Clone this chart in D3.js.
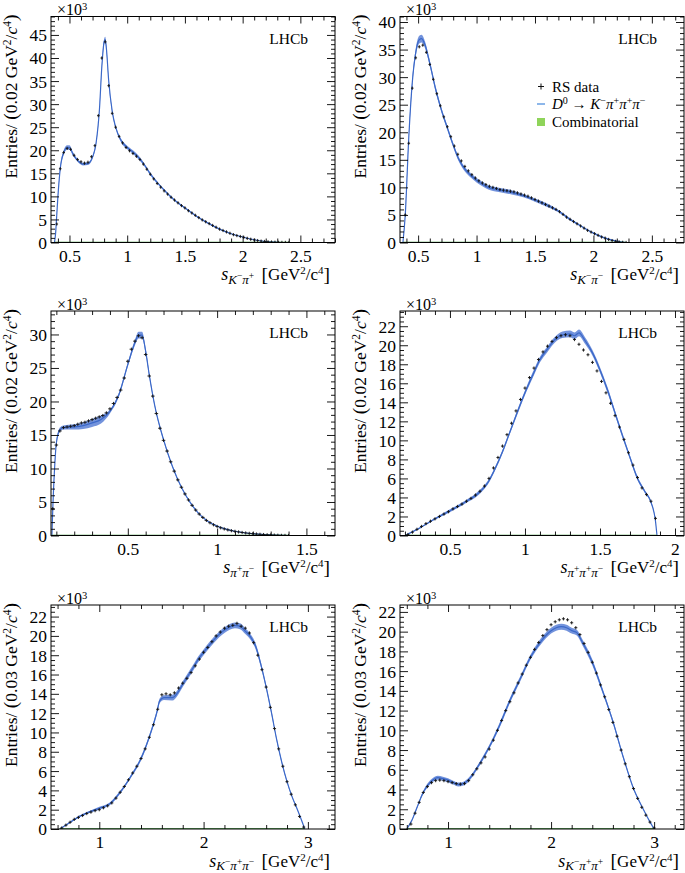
<!DOCTYPE html>
<html><head><meta charset="utf-8">
<script src="https://cdn.jsdelivr.net/npm/d3@7"></script>
<style>body{margin:0;background:#fff}svg{display:block}text{white-space:pre}</style>
</head><body><svg id="c" width="685" height="873"></svg>
<script>
// ---------- DATA (entries in units of 10^3) ----------
// bin centres: start + i*step
const binStart = [0.39, 0.39, 0.08, 0.22, 0.64, 0.64];
const binStep  = [0.03, 0.03, 0.02, 0.03, 0.04, 0.04];
const binWidthLabel = ["0.02","0.02","0.02","0.02","0.03","0.03"];

const dataKmPip = [4,16,19.5,20.4,20.2,18.9,18.0,17.5,17.2,17.4,
  18.6,21.0,27.5,40.0,43.5,34.0,28.0,25.0,23.0,21.6,
  20.6,19.9,19.3,18.7,18.0,17.0,15.9,14.8,13.8,12.8,
  12.0,11.2,10.5,9.8,9.2,8.6,8.0,7.5,6.9,6.4,
  5.9,5.4,4.9,4.5,4.1,3.7,3.3,2.9,2.6,2.3,
  2.0,1.7,1.5,1.3,1.1,0.9,0.7,0.55,0.42,0.3,
  0.22,0.15,0.1,0.06,0.03,0.02,0.01,0];
const dataKmPim = [5,18,28,33.5,35.5,35.8,34.5,32.3,29.6,27.0,
  24.8,22.8,21.0,19.2,17.5,16.0,14.8,13.8,13.0,12.3,
  11.7,11.2,10.8,10.5,10.2,10.0,9.8,9.6,9.5,9.4,
  9.3,9.2,9.0,8.8,8.6,8.4,8.1,7.8,7.5,7.2,
  6.9,6.6,6.3,6.0,5.6,5.1,4.6,4.2,3.8,3.4,
  3.0,2.6,2.2,1.9,1.6,1.3,1.0,0.8,0.55,0.35,
  0.2,0.1,0.03,0];
const dataPipPim = [4,13.5,15.6,16.1,16.2,16.3,16.4,16.6,16.8,16.9,
  17.1,17.3,17.5,17.7,17.9,18.3,18.9,19.7,20.6,21.7,
  23.5,26.0,27.8,29.0,29.8,29.5,27.0,23.8,20.8,18.2,
  16.0,14.2,12.6,11.0,9.6,8.3,7.2,6.2,5.3,4.5,
  3.8,3.2,2.7,2.25,1.9,1.6,1.35,1.15,0.98,0.84,
  0.72,0.62,0.53,0.45,0.38,0.32,0.27,0.22,0.18,0.14,
  0.11,0.08,0.06,0.04,0.02,0.01,0];
const dataPipPipPim = [0.1,0.35,0.65,0.95,1.25,1.5,1.75,2.0,2.25,2.5,
  2.8,3.05,3.3,3.6,3.9,4.25,4.65,5.2,6.0,7.1,
  8.2,9.4,10.6,11.8,13.1,14.3,15.5,16.6,17.6,18.5,
  19.3,19.9,20.4,20.8,21.0,21.1,21.0,20.6,20.1,19.5,
  19.0,18.2,17.3,16.2,15.0,13.9,12.6,11.4,10.1,8.7,
  7.4,6.1,5.0,4.3,3.6,1.8];
const dataKmPipPim = [0.1,0.4,0.7,1.0,1.2,1.4,1.6,1.75,1.9,2.0,
  2.2,2.4,2.7,3.2,3.8,4.4,5.1,5.8,6.5,7.3,
  8.3,9.5,10.8,12.4,13.9,14.0,13.9,14.1,14.6,15.1,
  15.6,16.2,16.9,17.6,18.3,18.8,19.4,20.0,20.4,20.8,
  21.0,21.1,21.3,21.0,20.8,20.3,19.3,18.0,16.5,14.7,
  12.6,10.4,8.3,6.5,4.9,3.6,2.5,1.3,0.2];
const dataKmPipPip = [0.5,1.6,2.7,3.7,4.3,4.7,4.9,4.95,4.9,4.8,
  4.7,4.6,4.55,4.6,4.9,5.5,6.1,6.7,7.3,8.1,
  9.0,10.0,11.0,12.0,12.9,13.8,14.8,15.7,16.6,17.4,
  18.2,18.9,19.6,20.2,20.7,21.0,21.2,21.3,21.2,20.9,
  20.4,19.7,18.8,17.9,16.9,15.8,14.6,13.4,12.1,10.8,
  9.4,8.0,6.6,5.3,4.1,3.1,2.2,1.4,0.7,0.1];

// fit model: [s, value, band half-width]
const fitKmPip = [[0.37,0,0],[0.38,2,0.1],[0.39,6,0.2],[0.40,10,0.3],[0.42,16,0.4],[0.45,19.5,0.5],[0.48,20.6,0.5],[0.50,20.6,0.5],[0.53,19.2,0.4],[0.57,17.8,0.3],[0.62,17.0,0.3],[0.66,17.1,0.3],[0.70,18.5,0.3],[0.73,21.5,0.3],[0.76,29,0.4],[0.78,38,0.5],[0.80,43.5,0.6],[0.81,44,0.6],[0.82,42,0.5],[0.84,35,0.4],[0.87,28.5,0.3],[0.90,25,0.3],[0.95,22,0.4],[1.0,20.6,0.4],[1.05,19.6,0.4],[1.10,18.4,0.4],[1.15,16.8,0.3],[1.2,14.9,0.3],[1.3,11.9,0.2],[1.4,9.4,0.2],[1.5,7.5,0.15],[1.6,5.7,0.1],[1.7,4.2,0.1],[1.8,2.9,0.1],[1.9,1.9,0.05],[2.0,1.2,0.05],[2.1,0.6,0],[2.2,0.2,0],[2.3,0.05,0],[2.4,0,0]];
const fitKmPim = [[0.37,0,0],[0.39,5,0.3],[0.42,19,0.5],[0.45,29,0.6],[0.48,34.5,0.7],[0.51,36.8,0.7],[0.53,37,0.7],[0.56,35.8,0.6],[0.60,32.5,0.5],[0.65,27.8,0.5],[0.70,24,0.4],[0.75,20.8,0.4],[0.80,17.7,0.4],[0.85,15,0.4],[0.90,13.3,0.4],[0.95,12.2,0.4],[1.0,11.3,0.4],[1.05,10.6,0.4],[1.10,10.0,0.4],[1.15,9.7,0.4],[1.2,9.5,0.4],[1.3,9.1,0.4],[1.4,8.5,0.3],[1.5,7.7,0.3],[1.6,6.8,0.3],[1.7,5.7,0.2],[1.8,4.2,0.2],[1.9,2.9,0.1],[2.0,1.7,0.1],[2.1,0.8,0.05],[2.2,0.25,0],[2.28,0,0]];
const fitPipPim = [[0.075,0,0],[0.08,4,0.2],[0.09,10,0.3],[0.10,13.8,0.3],[0.12,15.8,0.3],[0.14,16.1,0.3],[0.2,16.2,0.4],[0.25,16.4,0.5],[0.3,16.8,0.6],[0.35,17.3,0.6],[0.4,18.5,0.3],[0.45,21.0,0.3],[0.5,25.5,0.3],[0.54,28.8,0.4],[0.56,29.9,0.5],[0.58,29.9,0.5],[0.6,27.5,0.4],[0.62,24,0.3],[0.65,19.5,0.2],[0.7,14.3,0.2],[0.75,10.3,0.15],[0.8,7.2,0.1],[0.85,4.9,0.1],[0.9,3.2,0.05],[0.95,2.1,0.05],[1.0,1.4,0],[1.1,0.63,0],[1.2,0.27,0],[1.3,0.08,0],[1.4,0,0]];
const fitPipPipPim = [[0.2,0,0],[0.3,0.8,0.05],[0.4,1.75,0.1],[0.5,2.6,0.15],[0.6,3.5,0.15],[0.7,4.6,0.2],[0.75,5.5,0.2],[0.8,7.0,0.2],[0.85,8.8,0.2],[0.9,10.9,0.2],[0.95,13.0,0.25],[1.0,15.0,0.25],[1.05,16.8,0.3],[1.1,18.5,0.3],[1.15,19.6,0.3],[1.2,20.6,0.3],[1.25,21.1,0.35],[1.3,21.2,0.35],[1.33,21.0,0.35],[1.36,21.3,0.35],[1.4,20.5,0.35],[1.45,19.2,0.3],[1.5,17.4,0.3],[1.55,15.3,0.3],[1.6,12.9,0.25],[1.65,10.5,0.25],[1.7,8.2,0.2],[1.75,6.0,0.2],[1.8,4.6,0.15],[1.84,3.5,0.1],[1.87,1.5,0.05],[1.88,0,0]];
const fitKmPipPim = [[0.62,0,0],[0.7,0.55,0.05],[0.8,1.25,0.1],[0.9,1.75,0.1],[1.0,2.15,0.15],[1.1,2.6,0.15],[1.2,3.8,0.15],[1.3,5.4,0.15],[1.4,7.3,0.2],[1.5,10.2,0.2],[1.55,12.0,0.25],[1.58,13.3,0.25],[1.62,13.6,0.25],[1.7,13.6,0.3],[1.75,14.1,0.3],[1.8,15.0,0.3],[1.9,16.7,0.3],[1.95,17.6,0.3],[2.0,18.3,0.3],[2.1,19.6,0.3],[2.2,20.6,0.3],[2.3,21.1,0.3],[2.35,21.0,0.3],[2.4,20.5,0.3],[2.45,19.9,0.3],[2.5,18.9,0.3],[2.55,17.0,0.25],[2.6,14.7,0.2],[2.65,12.1,0.2],[2.7,9.3,0.15],[2.75,6.9,0.15],[2.8,4.9,0.1],[2.85,3.3,0.1],[2.9,2.0,0.05],[2.95,0.6,0],[2.97,0,0]];
const fitKmPipPip = [[0.6,0,0],[0.65,0.9,0.05],[0.7,2.2,0.1],[0.75,3.5,0.15],[0.8,4.4,0.2],[0.85,4.95,0.2],[0.9,5.2,0.2],[0.95,5.1,0.2],[1.0,4.95,0.2],[1.05,4.7,0.2],[1.1,4.5,0.2],[1.15,4.6,0.2],[1.2,5.0,0.2],[1.3,6.5,0.2],[1.4,8.3,0.2],[1.5,10.5,0.25],[1.6,13.0,0.25],[1.7,15.2,0.25],[1.8,17.4,0.25],[1.9,19.0,0.3],[2.0,20.1,0.3],[2.05,20.4,0.3],[2.1,20.5,0.3],[2.15,20.4,0.3],[2.2,20.1,0.3],[2.25,19.9,0.3],[2.3,19.0,0.3],[2.4,16.9,0.3],[2.5,14.0,0.25],[2.6,10.9,0.2],[2.7,7.3,0.15],[2.8,4.1,0.1],[2.9,1.9,0.05],[2.95,0.9,0],[3.0,0,0]];

// tick labels
const xTicksKpi = [0.5,1,1.5,2,2.5];
const xTicksPiPi = [0.5,1,1.5];
const xTicks3Pi = [0.5,1,1.5,2];
const xTicksKPiPi = [1,2,3];
const yTicks45 = [0,5,10,15,20,25,30,35,40,45];
const yTicks40 = [0,5,10,15,20,25,30,35,40];
const yTicks30 = [0,5,10,15,20,25,30];
const yTicks22 = [0,2,4,6,8,10,12,14,16,18,20,22];

// axis-title subscripts: [particle, charge]
const subKmPip = [["K","−"],["π","+"]];
const subKmPim = [["K","−"],["π","−"]];
const subPipPim = [["π","+"],["π","−"]];
const subPipPipPim = [["π","+"],["π","+"],["π","−"]];
const subKmPipPim = [["K","−"],["π","+"],["π","−"]];
const subKmPipPip = [["K","−"],["π","+"],["π","+"]];

const legendLabels = ["RS data", "Combinatorial"];

// ---------- LAYOUT ----------
const FONT = "'Liberation Serif','Times New Roman',serif";
const colX = [51, 400], plotW = 284;
const rowY = [16.5, 311, 605], rowH = [226, 224.5, 224];
const BAND = "#5b80d6", LINE = "#3b68c8", GREEN = "#2f8f2f";
const TICKFS = 17.5;

const panels = [
  {c:0,r:0,data:dataKmPip,fit:fitKmPip,xd:[0.34,2.8],yd:[0,49],xt:xTicksKpi,yt:yTicks45,xm:0.1,ym:1,sub:subKmPip},
  {c:1,r:0,data:dataKmPim,fit:fitKmPim,xd:[0.345,2.775],yd:[0,41],xt:xTicksKpi,yt:yTicks40,xm:0.1,ym:1,sub:subKmPim,legend:true},
  {c:0,r:1,data:dataPipPim,fit:fitPipPim,xd:[0.07,1.66],yd:[0,33.5],xt:xTicksPiPi,yt:yTicks30,xm:0.1,ym:1,sub:subPipPim},
  {c:1,r:1,data:dataPipPipPim,fit:fitPipPipPim,xd:[0.167,2.06],yd:[0,23.6],xt:xTicks3Pi,yt:yTicks22,xm:0.1,ym:0.5,sub:subPipPipPim},
  {c:0,r:2,data:dataKmPipPim,fit:fitKmPipPim,xd:[0.537,3.26],yd:[0,23.2],xt:xTicksKPiPi,yt:yTicks22,xm:0.2,ym:0.5,sub:subKmPipPim},
  {c:1,r:2,data:dataKmPipPip,fit:fitKmPipPip,xd:[0.534,3.29],yd:[0,22.7],xt:xTicksKPiPi,yt:yTicks22,xm:0.2,ym:0.5,sub:subKmPipPip},
];

const svg = d3.select("#c").attr("font-family", FONT);

function rich(textSel, parts, base) {
  let cur = 0;
  parts.forEach(([t, o]) => {
    o = o || {};
    const off = o.o || 0;
    const ts = textSel.append("tspan").text(t).attr("dy", off - cur).attr("font-size", o.s || base);
    if (o.i) ts.attr("font-style", "italic");
    cur = off;
  });
}

function minorVals(d, step, majors) {
  const out = [];
  const n0 = Math.ceil(d[0] / step - 1e-9), n1 = Math.floor(d[1] / step + 1e-9);
  for (let n = n0; n <= n1; n++) {
    const v = +(n * step).toFixed(6);
    if (!majors.some(m => Math.abs(m - v) < 1e-6)) out.push(v);
  }
  return out;
}

panels.forEach((p, idx) => {
  const L = colX[p.c], T = rowY[p.r], Hh = rowH[p.r];
  const g = svg.append("g").attr("transform", `translate(${L},${T})`);
  const x = d3.scaleLinear().domain(p.xd).range([0, plotW]);
  const y = d3.scaleLinear().domain(p.yd).range([Hh, 0]);

  const clipId = "clip" + idx;
  g.append("clipPath").attr("id", clipId).append("rect").attr("width", plotW).attr("height", Hh);
  const plot = g.append("g").attr("clip-path", `url(#${clipId})`);

  // fit band + line
  plot.append("path").datum(p.fit)
    .attr("d", d3.area().x(d => x(d[0])).y0(d => y(d[1] - d[2])).y1(d => y(d[1] + d[2])).curve(d3.curveMonotoneX))
    .attr("fill", BAND).attr("opacity", 0.85);
  plot.append("path").datum(p.fit)
    .attr("d", d3.line().x(d => x(d[0])).y(d => y(d[1])).curve(d3.curveMonotoneX))
    .attr("fill", "none").attr("stroke", LINE).attr("stroke-width", 1.2);
  // combinatorial (negligible)
  plot.append("path").datum(p.fit)
    .attr("d", d3.line().x(d => x(d[0])).y(() => y(0)))
    .attr("fill", "none").attr("stroke", GREEN).attr("stroke-width", 1.6);

  // data points
  const bw = +binWidthLabel[idx];
  const pts = p.data.map((v, i) => [binStart[idx] + i * binStep[idx], v]);
  let dstr = "";
  pts.forEach(([s, v]) => {
    const cx = x(s), cy = y(v);
    const hx = Math.max(1.3, (x(s + bw / 2) - x(s - bw / 2)) / 2);
    dstr += `M${cx - hx},${cy}H${cx + hx}M${cx},${cy - 1.6}V${cy + 1.6}`;
  });
  plot.append("path").attr("d", dstr).attr("stroke", "#111").attr("stroke-width", 0.9).attr("fill", "none");

  // axes: ticks inside on all four sides
  const xMin = minorVals(p.xd, p.xm, p.xt), yMin = minorVals(p.yd, p.ym, p.yt);
  const mk = (axis, tr) => {
    const a = g.append("g").attr("transform", tr).call(axis);
    a.select(".domain").remove();
    a.selectAll("line").attr("stroke", "#000").attr("stroke-width", 0.9);
    return a;
  };
  const xb = mk(d3.axisBottom(x).tickValues(p.xt).tickSize(-7).tickFormat(d3.format("")), `translate(0,${Hh})`);
  xb.selectAll("text").attr("dy", null).attr("y", 19).attr("font-size", TICKFS).attr("font-family", FONT).attr("fill", "#000");
  mk(d3.axisBottom(x).tickValues(xMin).tickSize(-4).tickFormat(""), `translate(0,${Hh})`);
  mk(d3.axisTop(x).tickValues(p.xt).tickSize(-7).tickFormat(""), "translate(0,0)");
  mk(d3.axisTop(x).tickValues(xMin).tickSize(-4).tickFormat(""), "translate(0,0)");
  const yl = mk(d3.axisLeft(y).tickValues(p.yt).tickSize(-8).tickPadding(4).tickFormat(d3.format("")), "translate(0,0)");
  yl.selectAll("text").attr("x", -4).attr("dy", "0.34em").attr("font-size", TICKFS).attr("font-family", FONT).attr("fill", "#000");
  mk(d3.axisLeft(y).tickValues(yMin).tickSize(-4).tickFormat(""), "translate(0,0)");
  mk(d3.axisRight(y).tickValues(p.yt).tickSize(-8).tickFormat(""), `translate(${plotW},0)`);
  mk(d3.axisRight(y).tickValues(yMin).tickSize(-4).tickFormat(""), `translate(${plotW},0)`);

  g.append("rect").attr("width", plotW).attr("height", Hh).attr("fill", "none").attr("stroke", "#000").attr("stroke-width", 1);

  // x10^3
  rich(g.append("text").attr("x", 6).attr("y", -1.5), [["×10", {s: 16}], ["3", {s: 10.5, o: -5}]], 16);

  // LHCb
  g.append("text").attr("x", plotW - 27).attr("y", 27).attr("text-anchor", "end").attr("font-size", 15.5).text("LHCb");

  // x title
  const xp = [["s", {i: 1, s: 18}]];
  p.sub.forEach(([pa, ch]) => { xp.push([pa, {i: 1, s: 13, o: 3.5}]); xp.push([ch, {s: 9.5, o: -1.5}]); });
  xp.push(["  ", {s: 15}], ["[", {s: 19.5, o: 0.5}], ["GeV", {s: 17}], ["2", {s: 11, o: -6}], ["/c", {s: 17}], ["4", {s: 11, o: -6}], ["]", {s: 19.5, o: 0.5}]);
  rich(g.append("text").attr("x", plotW - 5).attr("y", Hh + 37.5).attr("text-anchor", "end"), xp, 17);

  // y title
  const yt = g.append("text").attr("transform", `translate(${-34},-2) rotate(-90)`).attr("text-anchor", "end");
  rich(yt, [["Entries/ ", {s: 17.5}], ["(", {s: 19.5}], [binWidthLabel[idx] + " GeV", {s: 17.5}], ["2", {s: 11.5, o: -6.5}], ["/", {s: 17.5}], ["c", {i: 1, s: 17.5}], ["4", {s: 11.5, o: -6.5}], [")", {s: 19.5}]], 17.5);

  // legend
  if (p.legend) {
    const lg = g.append("g");
    const lx = 141, ly = [70, 87.5, 105.5];
    lg.append("path").attr("d", `M${lx - 3},${ly[0]}H${lx + 3}M${lx},${ly[0] - 3}V${ly[0] + 3}`).attr("stroke", "#111").attr("stroke-width", 1);
    lg.append("text").attr("x", lx + 11).attr("y", ly[0] + 5).attr("font-size", 15).text(legendLabels[0]);
    lg.append("line").attr("x1", lx - 4).attr("x2", lx + 4).attr("y1", ly[1]).attr("y2", ly[1]).attr("stroke", "#8db7ea").attr("stroke-width", 2);
    rich(lg.append("text").attr("x", lx + 11).attr("y", ly[1] + 5),
      [["D", {i: 1, s: 15}], ["0", {s: 10, o: -5.5}], [" → ", {s: 15}], ["K", {i: 1, s: 15}], ["−", {s: 10, o: -5.5}], ["π", {i: 1, s: 15}], ["+", {s: 10, o: -5.5}], ["π", {i: 1, s: 15}], ["+", {s: 10, o: -5.5}], ["π", {i: 1, s: 15}], ["−", {s: 10, o: -5.5}]], 15);
    lg.append("rect").attr("x", lx - 4).attr("y", ly[2] - 4).attr("width", 8).attr("height", 8).attr("fill", "#8fd45a");
    lg.append("text").attr("x", lx + 11).attr("y", ly[2] + 5).attr("font-size", 15).text(legendLabels[1]);
  }
});
</script></body></html>
